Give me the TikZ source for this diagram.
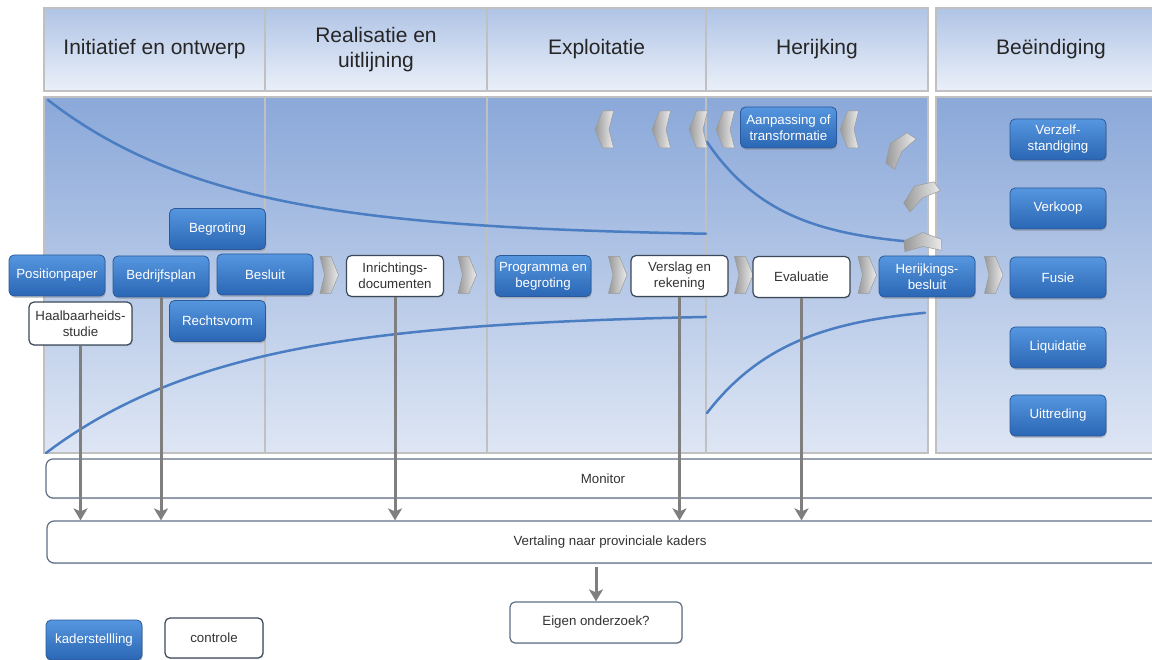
\documentclass[tikz,border=0pt]{standalone}
\usepackage{fontspec}
\setmainfont{Liberation Sans}
\usetikzlibrary{arrows.meta,shadows}

\definecolor{rand}{HTML}{C0C0C0}
\definecolor{kopboven}{HTML}{B0C4E6}
\definecolor{koponder}{HTML}{EAF0F9}
\definecolor{veldboven}{HTML}{8AA8D9}
\definecolor{veldonder}{HTML}{DEE6F4}
\definecolor{knopboven}{HTML}{5696DF}
\definecolor{knoponder}{HTML}{2A66B4}
\definecolor{knoprand}{HTML}{2B5A9A}
\definecolor{witrand}{HTML}{3B4859}
\definecolor{bandrand}{HTML}{5F6F86}
\definecolor{tekst}{HTML}{333333}
\definecolor{lijnblauw}{HTML}{4A7DC2}
\definecolor{pijlgrijs}{HTML}{7F7F7F}

\begin{document}
\begin{tikzpicture}[x=1pt,y=-1pt,
  kop/.style={draw=rand,line width=2.5pt,top color=kopboven,bottom color=koponder,minimum height=83pt,align=center,text=black!85,font=\fontsize{21}{25}\selectfont},
  veld/.style={draw=rand,line width=2.5pt,top color=veldboven,bottom color=veldonder},
  kader/.style={draw=knoprand,line width=0.8pt,rounded corners=5pt,top color=knopboven,bottom color=knoponder,text=white,minimum width=96pt,minimum height=41pt,inner sep=2pt,align=center,font=\fontsize{13.3}{16}\selectfont,drop shadow={shadow xshift=0.8pt,shadow yshift=-1.8pt,opacity=0.4}},
  controle/.style={draw=witrand,line width=1.2pt,fill=white,rounded corners=5pt,text=tekst,minimum width=97pt,minimum height=41pt,inner sep=2pt,align=center,font=\fontsize{13.3}{16}\selectfont,drop shadow={shadow xshift=0.8pt,shadow yshift=-1.2pt,opacity=0.25}},
  band/.style={draw=bandrand,line width=1.2pt,fill=white,rounded corners=7pt,text=tekst,font=\fontsize{13.3}{16}\selectfont,drop shadow={shadow xshift=0.6pt,shadow yshift=-1.2pt,opacity=0.25}},
  pijl/.style={draw=pijlgrijs,line width=3pt,-{Stealth[length=12pt,width=14pt,inset=3pt]}},
  curve/.style={draw=lijnblauw,line width=2.5pt,line cap=round},
  chevron/.pic={\path[draw=gray!80,line width=0.5pt,left color=gray!80,right color=gray!15] (-9,-18.5) -- (2,-18.5) -- (9.5,0) -- (2,18.5) -- (-9,18.5) -- (-4.5,0) -- cycle;}]
\useasboundingbox (0,0) rectangle (1152,660);
\clip (0,0) rectangle (1152,660);

% fasen
\node[kop,minimum width=221pt] (initiatief) at (154.5,49.5) {Initiatief en ontwerp};
\node[kop,minimum width=222pt] (realisatie) at (376,49.5) {Realisatie en\\uitlijning};
\node[kop,minimum width=219pt] (exploitatie) at (596.5,49.5) {Exploitatie};
\node[kop,minimum width=222pt] (herijking) at (817,49.5) {Herijking};
\node[kop,minimum width=230pt] (beeindiging) at (1051,49.5) {Beëindiging};
\foreach \a/\b in {44/265,265/487,487/706,706/928,936/1166}
  \draw[veld] (\a,97) rectangle (\b,453);

% lijnen
\draw[curve] plot[domain=48:706,samples=80] (\x,{237-137*exp(-(\x-48)/176)});
\draw[curve] plot[domain=46:706,samples=80] (\x,{313+140*exp(-(\x-46)/185)});
\draw[curve] plot[domain=707:918,samples=60] (\x,{248-106*exp(-(\x-707)/72)});
\draw[curve] plot[domain=707:925,samples=60] (\x,{305+108*exp(-(\x-707)/83)});

% pijlpunten
\foreach \x in {329,467,617.5,743.5,867,993.5}
  \pic at (\x,275) {chevron};
\foreach \x in {604.5,661.5,698.5,725.5,849.5}
  \pic[rotate=180] at (\x,129.5) {chevron};
\pic[rotate=145] at (898,149) {chevron};
\pic[rotate=125] at (920,194) {chevron};
\pic[rotate=92] at (923,242) {chevron};

% stappen
\node[kader] (begroting) at (217.5,229) {Begroting};
\node[kader] (position) at (57,275.5) {Positionpaper};
\node[kader] (bedrijf) at (161,276.5) {Bedrijfsplan};
\node[kader] (besluit) at (265,274.5) {Besluit};
\node[kader] (rechtsvorm) at (217.5,321) {Rechtsvorm};
\node[controle,minimum width=103pt,minimum height=43pt] (haal) at (80.5,323.5) {Haalbaarheids-\\studie};
\node[controle] (inricht) at (395,276) {Inrichtings-\\documenten};
\node[kader] (programma) at (543,276) {Programma en\\begroting};
\node[controle] (verslag) at (679.5,276) {Verslag en\\rekening};
\node[controle] (evaluatie) at (801.5,277) {Evaluatie};
\node[kader] (herbesluit) at (927,276.5) {Herijkings-\\besluit};
\node[kader] (aanpassing) at (788.5,127.5) {Aanpassing of\\transformatie};

% einde
\node[kader] (verzelf) at (1058,139.5) {Verzelf-\\standiging};
\node[kader] (verkoop) at (1058,208.5) {Verkoop};
\node[kader] (fusie) at (1058,277.5) {Fusie};
\node[kader] (liquidatie) at (1058,347.5) {Liquidatie};
\node[kader] (uittreding) at (1058,415.5) {Uittreding};

% banden
\node[band,minimum width=1114pt,minimum height=39pt] (monitor) at (603,478.5) {Monitor};
\node[band,minimum width=1126pt,minimum height=42pt] (vert) at (610,542) {Vertaling naar provinciale kaders};
\node[controle,draw=bandrand,minimum width=172pt] (eigen) at (596,622.5) {Eigen onderzoek?};

% legenda
\node[kader,minimum height=40pt] (kaderst) at (94,640) {kaderstellling};
\node[controle,minimum width=98pt,minimum height=40pt] (contr) at (214,638) {controle};

% naar kaders
\foreach \n in {haal,bedrijf,inricht,verslag,evaluatie}
  \draw[pijl] (\n.south) -- (\n.south |- vert.north);
\draw[pijl,shorten <=3pt] (vert.south -| eigen.north) -- (eigen.north);
\end{tikzpicture}
\end{document}
